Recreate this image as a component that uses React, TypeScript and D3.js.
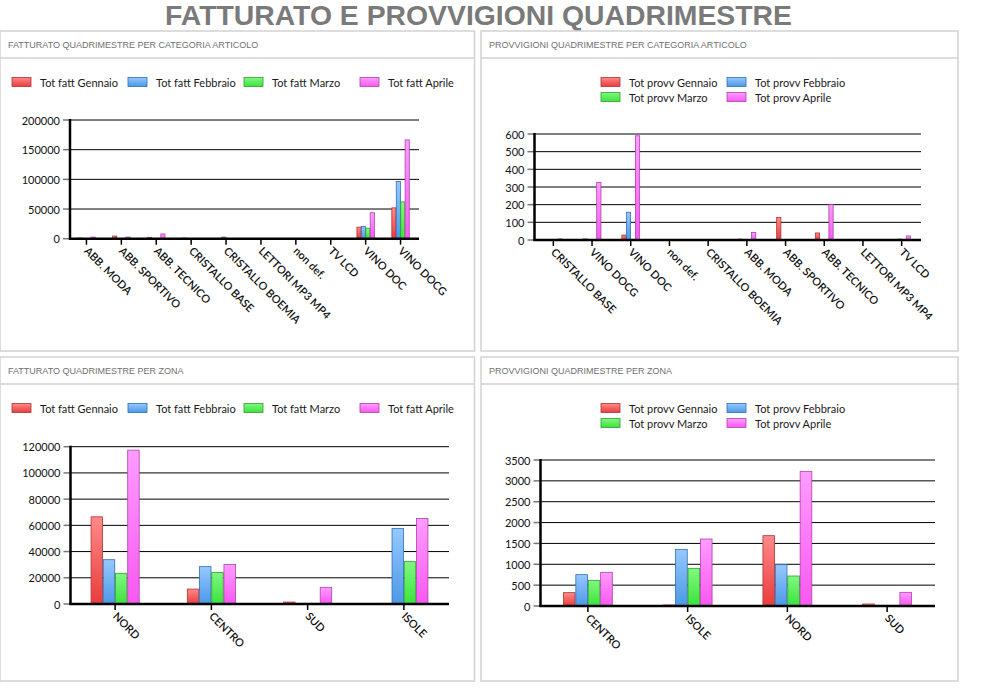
import * as d3 from "d3";

// --- dati ---
const SERIE_FATT = ["Tot fatt Gennaio", "Tot fatt Febbraio", "Tot fatt Marzo", "Tot fatt Aprile"];
const SERIE_PROVV = ["Tot provv Gennaio", "Tot provv Febbraio", "Tot provv Marzo", "Tot provv Aprile"];

const CAT_FATT = [
  "ABB. MODA", "ABB. SPORTIVO", "ABB. TECNICO", "CRISTALLO BASE", "CRISTALLO BOEMIA",
  "LETTORI MP3 MP4", "non def.", "TV LCD", "VINO DOC", "VINO DOCG",
];
const FATT_CAT_GEN = [1100, 4500, 2300, 1100, 600, 500, 600, 500, 19500, 52000];
const FATT_CAT_FEB = [500, 300, 300, 500, 2800, 500, 500, 500, 20500, 96500];
const FATT_CAT_MAR = [500, 300, 300, 500, 500, 500, 0, 500, 17700, 62000];
const FATT_CAT_APR = [2800, 2800, 8000, 500, 500, 500, 600, 500, 43800, 166500];
const TICK_FATT_CAT = [0, 50000, 100000, 150000, 200000];

const CAT_PROVV = [
  "CRISTALLO BASE", "VINO DOCG", "VINO DOC", "non def.", "CRISTALLO BOEMIA",
  "ABB. MODA", "ABB. SPORTIVO", "ABB. TECNICO", "LETTORI MP3 MP4", "TV LCD",
];
const PROVV_CAT_GEN = [2, 6, 28, 1, 1, 5, 128, 40, 1, 2];
const PROVV_CAT_FEB = [1, 1, 157, 1, 1, 1, 1, 1, 1, 5];
const PROVV_CAT_MAR = [1, 2, 1, 1, 1, 1, 1, 1, 1, 1];
const PROVV_CAT_APR = [6, 326, 590, 1, 1, 43, 3, 200, 1, 23];
const TICK_PROVV_CAT = [0, 100, 200, 300, 400, 500, 600];

const ZONE_FATT = ["NORD", "CENTRO", "SUD", "ISOLE"];
const FATT_ZONA_GEN = [66500, 11400, 1500, 500];
const FATT_ZONA_FEB = [33800, 28500, 500, 57700];
const FATT_ZONA_MAR = [23400, 24100, 500, 32300];
const FATT_ZONA_APR = [117400, 30200, 12700, 65300];
const TICK_FATT_ZONA = [0, 20000, 40000, 60000, 80000, 100000, 120000];

const ZONE_PROVV = ["CENTRO", "ISOLE", "NORD", "SUD"];
const PROVV_ZONA_GEN = [320, 24, 1686, 48];
const PROVV_ZONA_FEB = [751, 1358, 991, 16];
const PROVV_ZONA_MAR = [615, 903, 719, 16];
const PROVV_ZONA_APR = [807, 1606, 3228, 328];
const TICK_PROVV_ZONA = [0, 500, 1000, 1500, 2000, 2500, 3000, 3500];

// --- stile ---
const COLORI = [
  { top: "#ff8a8a", bottom: "#e83c3c", stroke: "#b03434" },
  { top: "#96c8ff", bottom: "#4c98e6", stroke: "#2e6fb4" },
  { top: "#80f880", bottom: "#3ce23c", stroke: "#2e9e2e" },
  { top: "#ff9cff", bottom: "#f858f0", stroke: "#b040b0" },
];
const FONT = "Lato, 'Noto Sans', sans-serif";

function Pannello({ x, y, w, h, titolo }) {
  return (
    <g>
      <rect x={x} y={y} width={w} height={h} fill="#fff" stroke="#d2d2d2" strokeWidth={1.5} />
      <line x1={x} x2={x + w} y1={y + 27} y2={y + 27} stroke="#d2d2d2" strokeWidth={1.5} />
      <text x={x + 8} y={y + 17} fontFamily="'Liberation Sans', Arial" fontSize={9} fill="#707070">
        {titolo}
      </text>
    </g>
  );
}

function Legenda({ nomi, xs, ys }) {
  return (
    <g fontFamily={FONT} fontSize={11} fill="#1a1a1a">
      {nomi.map((n, i) => (
        <g key={n} transform={`translate(${xs[i]},${ys[i]})`}>
          <rect x={0} y={-4.5} width={19} height={9} fill={`url(#grad${i})`} stroke={COLORI[i].stroke} strokeWidth={0.8} />
          <text x={28} y={0} dominantBaseline="central">{n}</text>
        </g>
      ))}
    </g>
  );
}

function Grafico({ categorie, valori, ticks, x0, x1, bandX0, bandX1, yTop, yBottom, gruppo }) {
  const y = d3.scaleLinear().domain([0, ticks[ticks.length - 1]]).range([yBottom, yTop]);
  const x = d3.scaleBand().domain(categorie).range([bandX0, bandX1]);
  const gw = x.bandwidth() * gruppo;
  const inner = d3.scaleBand().domain(d3.range(valori.length).map(String)).range([0, gw]).paddingInner(0.06);
  return (
    <g>
      {ticks.map((t) => (
        <g key={t}>
          {t > 0 && <line x1={x0} x2={x1} y1={y(t)} y2={y(t)} stroke="#000" strokeWidth={1} />}
          <line x1={x0 - 7} x2={x0} y1={y(t)} y2={y(t)} stroke="#777" strokeWidth={1.5} />
          <text x={x0 - 10} y={y(t)} textAnchor="end" dominantBaseline="central" fontFamily={FONT} fontSize={11} fill="#111">
            {t}
          </text>
        </g>
      ))}
      {categorie.map((c, ci) => {
        const cx = x(c) + x.bandwidth() / 2;
        return (
          <g key={c}>
            {valori.map((serie, si) => {
              const v = serie[ci];
              const bx = cx - gw / 2 + inner(String(si));
              return (
                <rect
                  key={si}
                  x={bx}
                  y={y(v)}
                  width={inner.bandwidth()}
                  height={yBottom - y(v)}
                  fill={`url(#grad${si})`}
                  stroke={COLORI[si].stroke}
                  strokeWidth={0.8}
                />
              );
            })}
            <line x1={cx} x2={cx} y1={yBottom} y2={yBottom + 6} stroke="#000" strokeWidth={1.5} />
            <text
              transform={`translate(${cx - 3},${yBottom + 13}) rotate(45)`}
              fontFamily={FONT}
              fontSize={11}
              fontWeight={600}
              fill="#111"
            >
              {c}
            </text>
          </g>
        );
      })}
      <line x1={x0} x2={x0} y1={yTop - 1} y2={yBottom + 1} stroke="#000" strokeWidth={2.5} />
      <line x1={x0 - 1} x2={x1} y1={yBottom} y2={yBottom} stroke="#000" strokeWidth={2.5} />
    </g>
  );
}

export default function App() {
  return (
    <svg width={988} height={696} style={{ position: "absolute", left: 0, top: 0, background: "#fff" }}>
      <defs>
        {COLORI.map((c, i) => (
          <linearGradient key={i} id={`grad${i}`} x1="0" y1="0" x2="0" y2="1">
            <stop offset="0%" stopColor={c.top} />
            <stop offset="100%" stopColor={c.bottom} />
          </linearGradient>
        ))}
      </defs>
      <text
        x={478.5}
        y={25}
        textAnchor="middle"
        fontFamily="'Liberation Sans', Arial"
        fontWeight="bold"
        fontSize={28}
        fill="#7a7a7a"
        textLength={627}
        lengthAdjust="spacingAndGlyphs"
      >
        FATTURATO E PROVVIGIONI QUADRIMESTRE
      </text>

      <Pannello x={0} y={31} w={474.5} h={320} titolo="FATTURATO QUADRIMESTRE PER CATEGORIA ARTICOLO" />
      <Pannello x={481} y={31} w={477} h={320} titolo="PROVVIGIONI QUADRIMESTRE PER CATEGORIA ARTICOLO" />
      <Pannello x={0} y={357} w={474.5} h={324} titolo="FATTURATO QUADRIMESTRE PER ZONA" />
      <Pannello x={481} y={357} w={477} h={324} titolo="PROVVIGIONI QUADRIMESTRE PER ZONA" />

      <Legenda nomi={SERIE_FATT} xs={[12, 128, 244, 360]} ys={[82, 82, 82, 82]} />
      <Grafico
        categorie={CAT_FATT}
        valori={[FATT_CAT_GEN, FATT_CAT_FEB, FATT_CAT_MAR, FATT_CAT_APR]}
        ticks={TICK_FATT_CAT}
        x0={70} x1={419} bandX0={69} bandX1={418} yTop={120} yBottom={238.7} gruppo={0.5}
      />

      <Legenda nomi={SERIE_PROVV} xs={[601, 727, 601, 727]} ys={[82, 82, 97, 97]} />
      <Grafico
        categorie={CAT_PROVV}
        valori={[PROVV_CAT_GEN, PROVV_CAT_FEB, PROVV_CAT_MAR, PROVV_CAT_APR]}
        ticks={TICK_PROVV_CAT}
        x0={534.5} x1={921} bandX0={534} bandX1={921} yTop={134} yBottom={240} gruppo={0.46}
      />

      <Legenda nomi={SERIE_FATT} xs={[12, 128, 244, 360]} ys={[408, 408, 408, 408]} />
      <Grafico
        categorie={ZONE_FATT}
        valori={[FATT_ZONA_GEN, FATT_ZONA_FEB, FATT_ZONA_MAR, FATT_ZONA_APR]}
        ticks={TICK_FATT_ZONA}
        x0={70.5} x1={449} bandX0={67} bandX1={452} yTop={446.7} yBottom={604} gruppo={0.5}
      />

      <Legenda nomi={SERIE_PROVV} xs={[601, 727, 601, 727]} ys={[408, 408, 423, 423]} />
      <Grafico
        categorie={ZONE_PROVV}
        valori={[PROVV_ZONA_GEN, PROVV_ZONA_FEB, PROVV_ZONA_MAR, PROVV_ZONA_APR]}
        ticks={TICK_PROVV_ZONA}
        x0={540.5} x1={935} bandX0={538} bandX1={937} yTop={460} yBottom={606} gruppo={0.49}
      />
    </svg>
  );
}
